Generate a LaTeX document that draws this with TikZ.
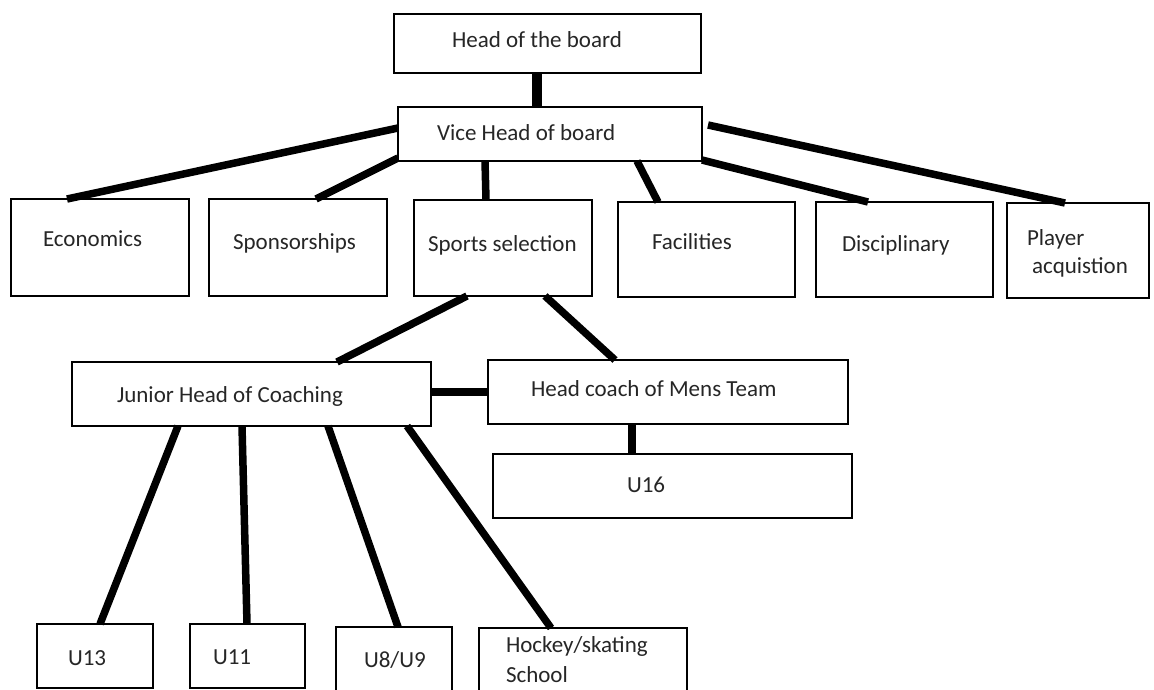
\documentclass[tikz,border=0pt]{standalone}
\usepackage{fontspec}
\setmainfont{Carlito}
\definecolor{inkgray}{HTML}{262626}
\begin{document}
\begin{tikzpicture}[x=1pt,y=-1pt,
  box/.style={draw=black, line width=2.6pt, fill=white, inner sep=0pt, outer sep=0pt},
  thinbox/.style={box, line width=2pt},
  lbl/.style={inner sep=0pt, outer sep=0pt, anchor=base west, text=inkgray,
    font=\fontsize{23}{28}\selectfont},
  conn/.style={draw=black, line width=7.5pt, line cap=butt},
  trunk/.style={conn, line width=10pt}]
\useasboundingbox (0,0) rectangle (1154,689);
\clip (0,0) rectangle (1154,689);

% boxes
\node[box, minimum width=307pt, minimum height=59pt] (head)   at (547.5,43.5) {};
\node[box, minimum width=304pt, minimum height=54pt] (vice)   at (550,134) {};
\node[box, minimum width=178pt, minimum height=97pt] (econ)   at (100,247.5) {};
\node[box, minimum width=178pt, minimum height=97pt] (spons)  at (298,247.5) {};
\node[box, minimum width=178pt, minimum height=96pt] (sports) at (503,248) {};
\node[box, minimum width=177pt, minimum height=95pt] (fac)    at (706.5,249.5) {};
\node[box, minimum width=177pt, minimum height=95pt] (disc)   at (904.5,249.5) {};
\node[box, minimum width=142pt, minimum height=95pt] (player) at (1078,250.5) {};
\node[box, minimum width=359pt, minimum height=64pt] (junior) at (251.5,394) {};
\node[box, minimum width=360pt, minimum height=64pt] (mens)   at (668,392) {};
\node[box, minimum width=359pt, minimum height=64pt] (u16)    at (672.5,486) {};
\node[thinbox, minimum width=116pt, minimum height=64pt] (u13) at (95,656) {};
\node[thinbox, minimum width=115pt, minimum height=64pt] (u11) at (247.5,656) {};
\node[thinbox, minimum width=116pt, minimum height=68pt] (u8)  at (394,661) {};
\node[box, minimum width=208pt, minimum height=67pt] (hockey)  at (583,661.5) {};

% labels
\node[lbl] (t-head)   at (452,47.7)  {Head of the board};
\node[lbl] (t-vice)   at (437,140)   {Vice Head of board};
\node[lbl] (t-econ)   at (43,246)    {Economics};
\node[lbl] (t-spons)  at (233,249)   {Sponsorships};
\node[lbl] (t-sports) at (428,251.5) {Sports selection};
\node[lbl] (t-fac)    at (652,249)   {Facilities};
\node[lbl] (t-disc)   at (842,251.5) {Disciplinary};
\node[lbl] (t-play1)  at (1027,245)  {Player};
\node[lbl] (t-play2)  at (1032,273.3){acquistion};
\node[lbl] (t-junior) at (117,402.7) {Junior Head of Coaching};
\node[lbl] (t-mens)   at (531,396.7) {Head coach of Mens Team};
\node[lbl] (t-u16)    at (627,492.7) {U16};
\node[lbl] (t-u13)    at (68,665.7)  {U13};
\node[lbl] (t-u11)    at (213,664)   {U11};
\node[lbl] (t-u8)     at (364,667.3) {U8/U9};
\node[lbl] (t-hock1)  at (506,652.7) {Hockey/skating};
\node[lbl] (t-hock2)  at (506,682.7) {School};

% connectors
\draw[trunk] ([xshift=-11pt]head.south) -- ([xshift=-13.5pt]vice.north);
\draw[conn] ([xshift=56pt]econ.north west)   -- ([yshift=6pt]vice.west);
\draw[conn] ([xshift=107pt]spons.north west) -- ([yshift=3pt]vice.south west);
\draw[conn] ([xshift=72pt]sports.north west) -- ([xshift=87pt]vice.south west);
\draw[conn] ([xshift=40pt]fac.north west)    -- ([xshift=239pt]vice.south west);
\draw[conn] ([xshift=52pt]disc.north west)   -- ([yshift=1pt]vice.south east);
\draw[conn] ([xshift=58pt]player.north west) -- ([xshift=6pt,yshift=9pt]vice.east);
\draw[conn] ([xshift=53pt]sports.south west)  -- ([xshift=265pt]junior.north west);
\draw[conn] ([xshift=131pt]sports.south west) -- ([xshift=127pt]mens.north west);
\draw[conn] (mens.west -| junior.east) -- (mens.west);
\draw[conn] ([xshift=-36pt]mens.south) -- ([xshift=-40.5pt]u16.north);
\draw[conn] ([xshift=106pt]junior.south west) -- ([xshift=63pt]u13.north west);
\draw[conn] ([xshift=170pt]junior.south west) -- ([xshift=57pt]u11.north west);
\draw[conn] ([xshift=256pt]junior.south west) -- ([xshift=62pt]u8.north west);
\draw[conn] ([xshift=335pt]junior.south west) -- ([xshift=72pt]hockey.north west);
\end{tikzpicture}
\end{document}
